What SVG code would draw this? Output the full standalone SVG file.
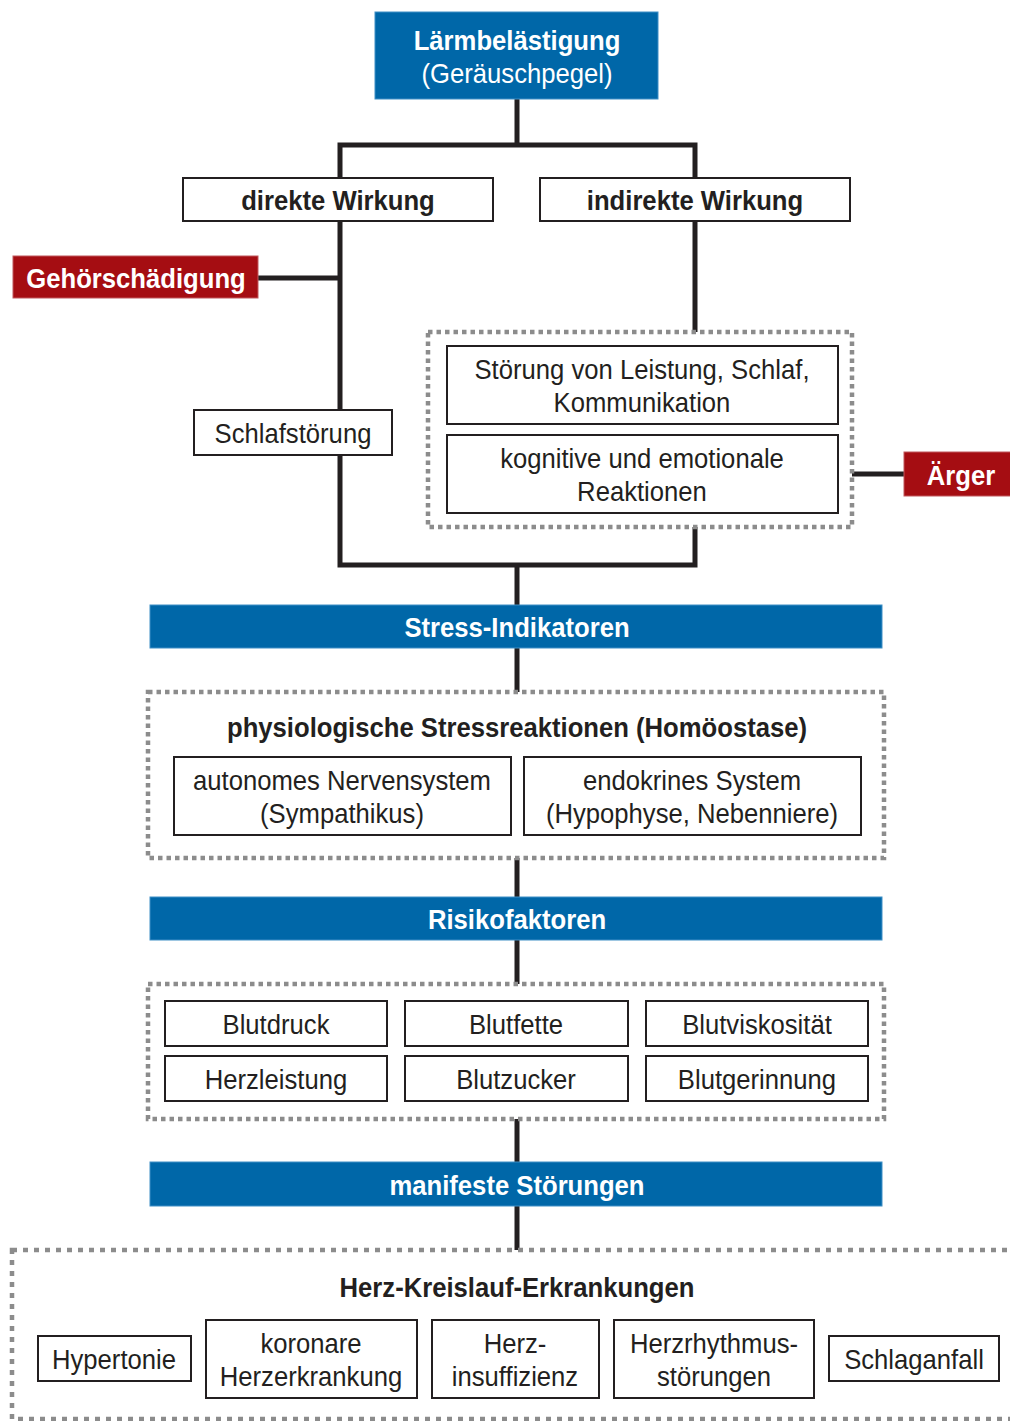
<svg xmlns="http://www.w3.org/2000/svg" width="1010" height="1421" viewBox="0 0 1010 1421">
<style>
text{font-family:"Liberation Sans",Arial,sans-serif;text-anchor:middle;fill:#231f20;font-size:28.5px}
.b{font-weight:bold}
.w{fill:#ffffff}
.blue{fill:#0067a8;stroke:#3f8fc6;stroke-width:1}
.red{fill:#a50d12;stroke:#c0595c;stroke-width:1}
.box{fill:#ffffff;stroke:#231f20;stroke-width:2}
.dot{fill:#ffffff;stroke:#8c8c8c;stroke-width:4.5;stroke-dasharray:4.5 4}
.dot2{fill:#ffffff;stroke:#8c8c8c;stroke-width:4.5;stroke-dasharray:5 6}
.ln{fill:none;stroke:#231f20;stroke-width:5}
</style>
<rect width="1010" height="1421" fill="#ffffff"/>
<g id="connectors">
<path class="ln" d="M517 99V145M340 178V145H695V178"/>
<path class="ln" d="M340 221V565H695V527M695 221V332"/>
<path class="ln" d="M258 278H340M852 474H904"/>
<path class="ln" d="M517 565V605M517 648V692M517 858V897M517 940V984M517 1119V1162M517 1206V1250"/>
</g>
<g id="laermbelaestigung">
<rect class="blue" x="375" y="12" width="283" height="87"/>
<text class="b w" transform="translate(517 0) scale(.9 1)" y="50" font-size="30.5">Lärmbelästigung</text>
<text class="w" transform="translate(517 0) scale(.9 1)" y="83" font-size="30.5">(Geräuschpegel)</text>
</g>
<g id="direkte">
<rect class="box" x="183" y="178" width="310" height="43"/>
<text class="b" transform="translate(338 0) scale(.9 1)" y="210">direkte Wirkung</text>
</g>
<g id="indirekte">
<rect class="box" x="540" y="178" width="310" height="43"/>
<text class="b" transform="translate(695 0) scale(.9 1)" y="210">indirekte Wirkung</text>
</g>
<g id="gehoerschaedigung">
<rect class="red" x="13" y="256" width="245" height="42"/>
<text class="b w" transform="translate(136 0) scale(.9 1)" y="288">Gehörschädigung</text>
</g>
<g id="schlafstoerung">
<rect class="box" x="194" y="410" width="198" height="45"/>
<text transform="translate(293 0) scale(.9 1)" y="443">Schlafstörung</text>
</g>
<g id="indirekt-gruppe">
<rect class="dot" x="428" y="332" width="424" height="195"/>
<g id="stoerung-leistung">
<rect class="box" x="447" y="346" width="391" height="78"/>
<text transform="translate(642 0) scale(.9 1)" y="379">Störung von Leistung, Schlaf,</text>
<text transform="translate(642 0) scale(.9 1)" y="412">Kommunikation</text>
</g>
<g id="kognitive">
<rect class="box" x="447" y="435" width="391" height="78"/>
<text transform="translate(642 0) scale(.9 1)" y="468">kognitive und emotionale</text>
<text transform="translate(642 0) scale(.9 1)" y="501">Reaktionen</text>
</g>
</g>
<g id="aerger">
<rect class="red" x="904" y="452" width="110" height="44"/>
<text class="b w" transform="translate(961 0) scale(.9 1)" y="485">Ärger</text>
</g>
<g id="stress-indikatoren">
<rect class="blue" x="150" y="605" width="732" height="43"/>
<text class="b w" transform="translate(517 0) scale(.9 1)" y="637">Stress-Indikatoren</text>
</g>
<g id="physiologische">
<rect class="dot" x="148" y="692" width="736" height="166"/>
<text class="b" transform="translate(517 0) scale(.9 1)" y="737">physiologische Stressreaktionen (Homöostase)</text>
<g id="autonomes">
<rect class="box" x="174" y="757" width="337" height="78"/>
<text transform="translate(342 0) scale(.9 1)" y="790">autonomes Nervensystem</text>
<text transform="translate(342 0) scale(.9 1)" y="823">(Sympathikus)</text>
</g>
<g id="endokrines">
<rect class="box" x="524" y="757" width="337" height="78"/>
<text transform="translate(692 0) scale(.9 1)" y="790">endokrines System</text>
<text transform="translate(692 0) scale(.9 1)" y="823">(Hypophyse, Nebenniere)</text>
</g>
</g>
<g id="risikofaktoren">
<rect class="blue" x="150" y="897" width="732" height="43"/>
<text class="b w" transform="translate(517 0) scale(.9 1)" y="929">Risikofaktoren</text>
</g>
<g id="risiko-gruppe">
<rect class="dot" x="148" y="984" width="736" height="135"/>
<g id="blutdruck"><rect class="box" x="165" y="1001" width="222" height="45"/><text transform="translate(276 0) scale(.9 1)" y="1034">Blutdruck</text></g>
<g id="blutfette"><rect class="box" x="405" y="1001" width="223" height="45"/><text transform="translate(516 0) scale(.9 1)" y="1034">Blutfette</text></g>
<g id="blutviskositaet"><rect class="box" x="646" y="1001" width="222" height="45"/><text transform="translate(757 0) scale(.9 1)" y="1034">Blutviskosität</text></g>
<g id="herzleistung"><rect class="box" x="165" y="1056" width="222" height="45"/><text transform="translate(276 0) scale(.9 1)" y="1089">Herzleistung</text></g>
<g id="blutzucker"><rect class="box" x="405" y="1056" width="223" height="45"/><text transform="translate(516 0) scale(.9 1)" y="1089">Blutzucker</text></g>
<g id="blutgerinnung"><rect class="box" x="646" y="1056" width="222" height="45"/><text transform="translate(757 0) scale(.9 1)" y="1089">Blutgerinnung</text></g>
</g>
<g id="manifeste">
<rect class="blue" x="150" y="1162" width="732" height="44"/>
<text class="b w" transform="translate(517 0) scale(.9 1)" y="1195">manifeste Störungen</text>
</g>
<g id="herz-kreislauf">
<rect class="dot2" x="12" y="1250" width="1010" height="169"/>
<text class="b" transform="translate(517 0) scale(.9 1)" y="1297">Herz-Kreislauf-Erkrankungen</text>
<g id="hypertonie"><rect class="box" x="38" y="1336" width="153" height="45"/><text transform="translate(114 0) scale(.9 1)" y="1369">Hypertonie</text></g>
<g id="koronare"><rect class="box" x="206" y="1320" width="211" height="78"/><text transform="translate(311 0) scale(.9 1)" y="1353">koronare</text><text transform="translate(311 0) scale(.9 1)" y="1386">Herzerkrankung</text></g>
<g id="herzinsuffizienz"><rect class="box" x="432" y="1320" width="167" height="78"/><text transform="translate(515 0) scale(.9 1)" y="1353">Herz-</text><text transform="translate(515 0) scale(.9 1)" y="1386">insuffizienz</text></g>
<g id="herzrhythmus"><rect class="box" x="614" y="1320" width="200" height="78"/><text transform="translate(714 0) scale(.9 1)" y="1353">Herzrhythmus-</text><text transform="translate(714 0) scale(.9 1)" y="1386">störungen</text></g>
<g id="schlaganfall"><rect class="box" x="829" y="1336" width="170" height="45"/><text transform="translate(914 0) scale(.9 1)" y="1369">Schlaganfall</text></g>
</g>
</svg>
